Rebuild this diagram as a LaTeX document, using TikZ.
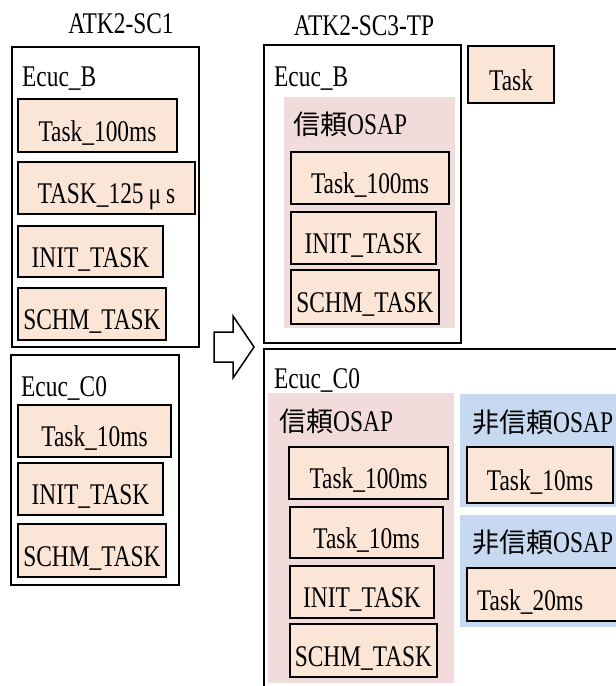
\documentclass[tikz,border=0pt]{standalone}
\usepackage{fontspec}
\setmainfont[FakeStretch=0.78]{Liberation Serif}
\newfontfamily\jpfont[Scale=0.9]{Noto Sans CJK JP}
\definecolor{taskfill}{HTML}{FBE5D6}
\definecolor{trustfill}{HTML}{F2DCDB}
\definecolor{untrustfill}{HTML}{C6D9F1}
\tikzset{
  every node/.style={font=\fontsize{30}{33}\selectfont, inner sep=0pt},
  task/.style={draw, line width=2pt, fill=taskfill, anchor=north west, text height=31pt, text depth=0pt},
  ecuc/.style={draw, line width=2pt},
  caption/.style={anchor=base west},
  trusted/.style={fill=trustfill},
  untrusted/.style={fill=untrustfill},
}

\begin{document}
\begin{tikzpicture}[x=1pt, y=-1pt]
    \useasboundingbox (0,0) rectangle (616,686);
    \clip (0,0) rectangle (616,686);
    % ATK2-SC1
    \node[anchor=base] (sc1) at (121,33) {ATK2-SC1};
    \draw[ecuc] (12,47) rectangle (199,347);
    \node[caption] (sc1b) at (22,86) {Ecuc\_B};
    \node[task, minimum width=159, minimum height=53] (sc1b100) at (17,98) {Task\_100ms};
    \node[task, minimum width=177, minimum height=52] (sc1b125) at (17,161) {TASK\_125\,μ\,s};
    \node[task, minimum width=145, minimum height=51] (sc1binit) at (17,225) {INIT\_TASK};
    \node[task, minimum width=148, minimum height=52] (sc1bschm) at (17,287) {SCHM\_TASK};
    \draw[ecuc] (11,355) rectangle (179,585);
    \node[caption] (sc1c) at (21,396) {Ecuc\_C0};
    \node[task, minimum width=153, minimum height=52] (sc1c10) at (17,404) {Task\_10ms};
    \node[task, minimum width=145, minimum height=52] (sc1cinit) at (17,462) {INIT\_TASK};
    \node[task, minimum width=148, minimum height=53] (sc1cschm) at (17,523) {SCHM\_TASK};
    % arrow
    \draw[line width=1.5pt, fill=white] (214,332) -- (233,332) -- (233,316) -- (254,347)
        -- (233,378) -- (233,362) -- (214,362) -- cycle;
    % ATK2-SC3-TP
    \node[anchor=base] (sc3) at (364,35) {ATK2-SC3-TP};
    \draw[ecuc] (264,45) rectangle (461,343);
    \node[task, minimum width=86, minimum height=57] (legend) at (467,45) {Task};
    \node[caption] (sc3b) at (274,86) {Ecuc\_B};
    \fill[trusted] (284,97) rectangle (455,328);
    \node[caption] (sc3bt) at (293,134) {{\jpfont 信頼}OSAP};
    \node[task, minimum width=158, minimum height=52] (sc3b100) at (290,151) {Task\_100ms};
    \node[task, minimum width=145, minimum height=52] (sc3binit) at (290,211) {INIT\_TASK};
    \node[task, minimum width=148, minimum height=54] (sc3bschm) at (290,269) {SCHM\_TASK};
    \draw[ecuc] (264,690) -- (264,349) -- (620,349);
    \node[caption] (sc3c) at (274,388) {Ecuc\_C0};
    \fill[trusted] (268,393) rectangle (454,683);
    \node[caption] (sc3ct) at (279,431) {{\jpfont 信頼}OSAP};
    \node[task, minimum width=159, minimum height=52] (sc3c100) at (288,446) {Task\_100ms};
    \node[task, minimum width=153, minimum height=51] (sc3c10) at (289,506) {Task\_10ms};
    \node[task, minimum width=144, minimum height=52] (sc3cinit) at (289,565) {INIT\_TASK};
    \node[task, minimum width=147, minimum height=53] (sc3cschm) at (289,623) {SCHM\_TASK};
    \fill[untrusted] (460,394) rectangle (620,507);
    \node[caption] (sc3cu1) at (472,432) {{\jpfont 非信頼}OSAP};
    \node[task, minimum width=146, minimum height=56] (sc3cu10) at (466,446) {Task\_10ms};
    \fill[untrusted] (460,515) rectangle (620,627);
    \node[caption] (sc3cu2) at (472,552) {{\jpfont 非信頼}OSAP};
    \node[task, minimum width=170, minimum height=53, text width=150, align=left] (sc3cu20) at (466,567) {Task\_20ms};
\end{tikzpicture}
\end{document}
